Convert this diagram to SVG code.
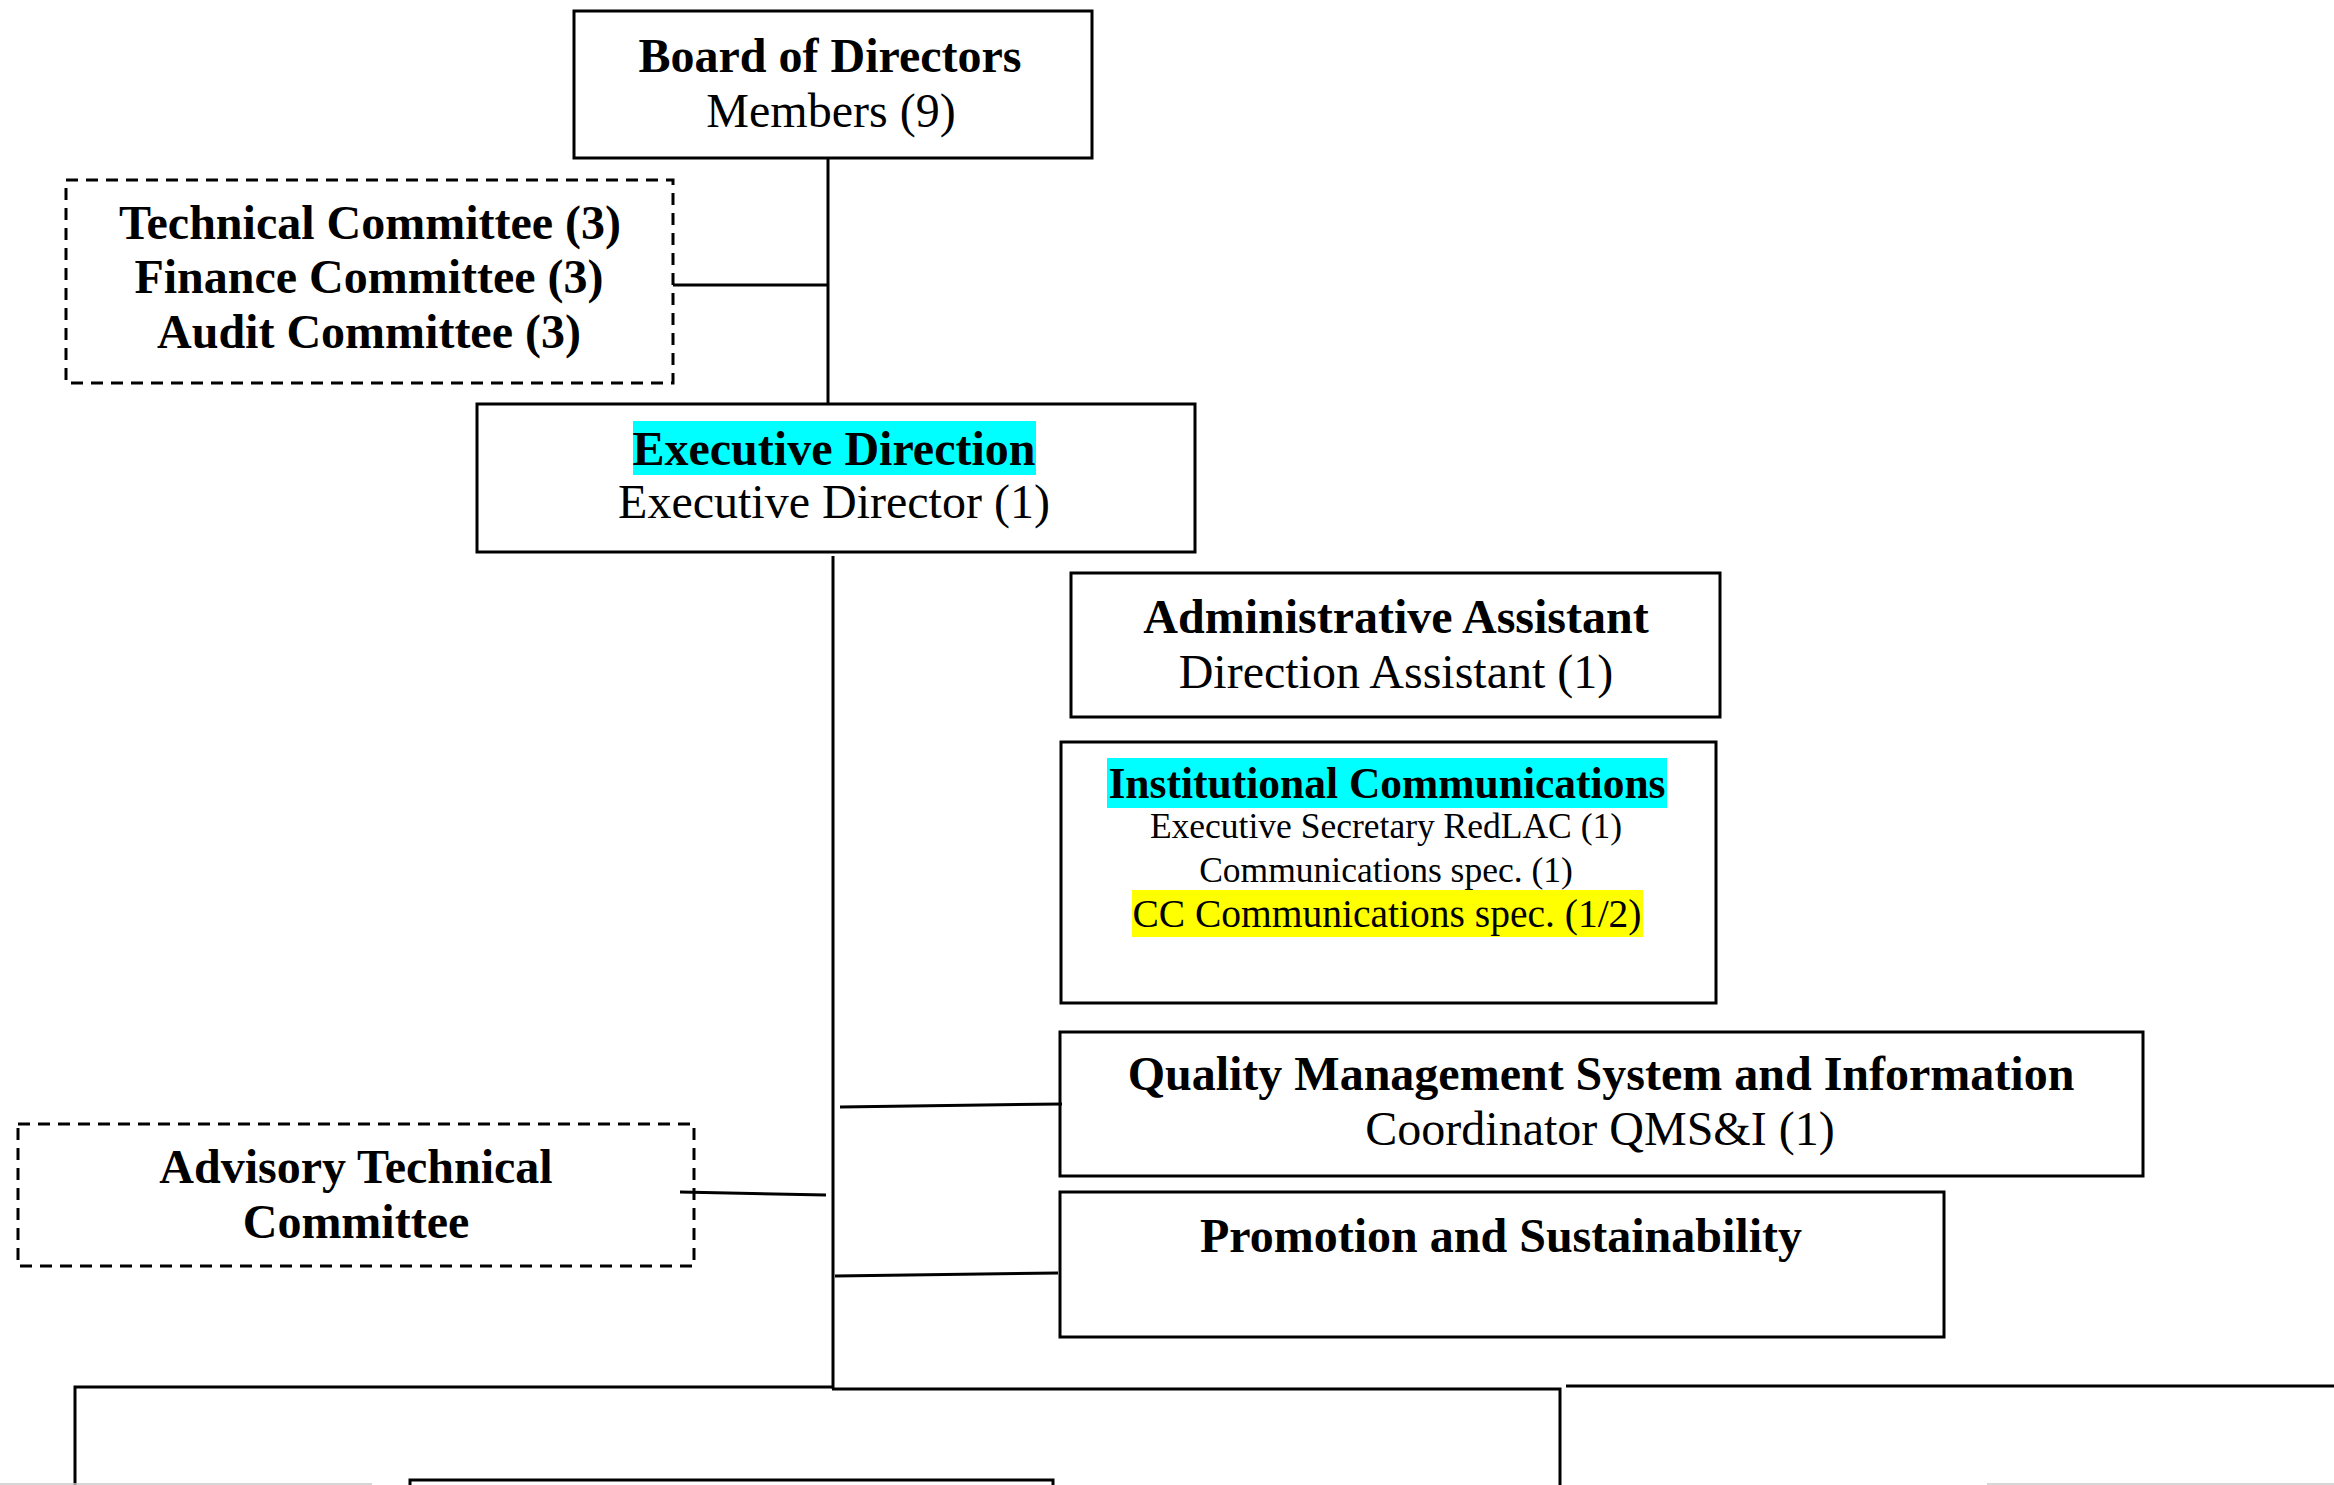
<svg xmlns="http://www.w3.org/2000/svg" width="2334" height="1485" viewBox="0 0 2334 1485">
<style>
.box{fill:#ffffff;stroke:#000000;stroke-width:3}
.dbox{fill:#ffffff;stroke:#000000;stroke-width:3;stroke-dasharray:12 8}
.ln{fill:none;stroke:#000000;stroke-width:3}
.t{font-family:"Liberation Serif","Times New Roman",serif;fill:#000000;text-anchor:middle}
.b{font-weight:bold;font-size:48px}
.r{font-weight:normal;font-size:48px}
.s{font-weight:normal;font-size:35.5px}
</style>
<rect x="0" y="0" width="2334" height="1485" fill="#ffffff"/>
<g id="board">
<rect class="box" x="574" y="11" width="518" height="147"/>
<text class="t b" x="830" y="72">Board of Directors</text>
<text class="t r" x="831" y="127">Members (9)</text>
</g>
<g id="committees">
<rect class="dbox" x="66" y="180" width="607" height="203"/>
<text class="t b" x="370" y="239">Technical Committee (3)</text>
<text class="t b" x="369" y="293">Finance Committee (3)</text>
<text class="t b" x="369" y="348">Audit Committee (3)</text>
</g>
<g id="executive">
<rect class="box" x="477" y="404" width="718" height="148"/>
<rect x="633" y="421" width="403" height="54" fill="#00ffff"/>
<text class="t b" x="834" y="465">Executive Direction</text>
<text class="t r" x="834" y="518">Executive Director (1)</text>
</g>
<g id="admin">
<rect class="box" x="1071" y="573" width="649" height="144"/>
<text class="t b" x="1396" y="633">Administrative Assistant</text>
<text class="t r" x="1396" y="688">Direction Assistant (1)</text>
</g>
<g id="communications">
<rect class="box" x="1061" y="742" width="655" height="261"/>
<rect x="1107" y="758" width="560" height="50" fill="#00ffff"/>
<text class="t" x="1387" y="798" font-weight="bold" font-size="43.5">Institutional Communications</text>
<text class="t s" x="1386" y="838">Executive Secretary RedLAC (1)</text>
<text class="t s" x="1386" y="882">Communications spec. (1)</text>
<rect x="1132" y="890" width="511" height="47" fill="#ffff00"/>
<text class="t" x="1387" y="927" font-size="39.5">CC Communications spec. (1/2)</text>
</g>
<g id="qms">
<rect class="box" x="1060" y="1032" width="1083" height="144"/>
<text class="t b" x="1601" y="1090">Quality Management System and Information</text>
<text class="t r" x="1600" y="1145">Coordinator QMS&amp;I (1)</text>
</g>
<g id="promotion">
<rect class="box" x="1060" y="1192" width="884" height="145"/>
<text class="t b" x="1501" y="1252">Promotion and Sustainability</text>
</g>
<g id="advisory">
<rect class="dbox" x="18" y="1124" width="676" height="142"/>
<text class="t b" x="356" y="1183">Advisory Technical</text>
<text class="t b" x="356" y="1238">Committee</text>
</g>
<g id="lower-unit">
<rect class="box" x="410" y="1480" width="643" height="30"/>
</g>
<g id="connectors">
<line class="ln" x1="828" y1="158" x2="828" y2="404"/>
<line class="ln" x1="673" y1="285" x2="828" y2="285"/>
<line class="ln" x1="833" y1="556" x2="833" y2="1389"/>
<line class="ln" x1="840" y1="1107" x2="1062" y2="1104"/>
<line class="ln" x1="680" y1="1192" x2="826" y2="1195"/>
<line class="ln" x1="835" y1="1276" x2="1058" y2="1273"/>
<polyline class="ln" points="75,1490 75,1387 832,1387"/>
<polyline class="ln" points="832,1389 1560,1389 1560,1490"/>
<line class="ln" x1="1566" y1="1386" x2="2334" y2="1386"/>
<line x1="0" y1="1484" x2="372" y2="1484" stroke="#c8c8c8" stroke-width="1.5"/>
<line x1="1987" y1="1484" x2="2334" y2="1484" stroke="#c8c8c8" stroke-width="1.5"/>
</g>
</svg>
